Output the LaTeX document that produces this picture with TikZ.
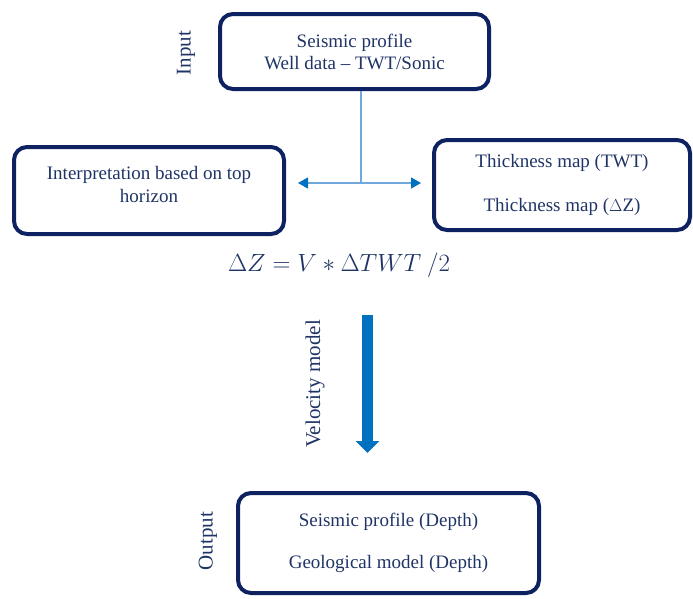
\documentclass[tikz,border=0pt]{standalone}
\usepackage{fontspec}
\setmainfont{Liberation Serif}
\usepackage{amsmath}
\usetikzlibrary{arrows.meta}
\definecolor{boxnavy}{HTML}{0E2160}
\definecolor{textnavy}{HTML}{1F3465}
\definecolor{lineblue}{HTML}{6FA8DC}
\definecolor{arrowblue}{HTML}{0070C0}

\begin{document}
\begin{tikzpicture}[x=1pt,y=-1pt]
    \tikzset{BX/.style={draw=boxnavy,line width=4pt,rounded corners=13pt,align=center,
        text=textnavy,font=\fontsize{19}{23}\selectfont,inner sep=0pt}}
    \tikzset{LB/.style={text=textnavy,font=\fontsize{21}{24}\selectfont,rotate=90,inner sep=0pt}}
    \tikzset{CN/.style={draw=lineblue,line width=1.2pt}}
    \tikzset{HD/.style={-{Triangle[length=10pt,width=11pt,color=arrowblue]}}}

    \useasboundingbox (0,0) rectangle (693,598);

    \node (top) [BX,minimum width=269pt,minimum height=75pt] at (354.5,51.5)
        {Seismic profile\\[-1pt]Well data -- TWT/Sonic};
    \node (interp) [BX,minimum width=270pt,minimum height=87pt] at (149,190.5)
        {Interpretation based on top\\horizon\\[-11pt]};
    \node (thick) [BX,minimum width=256pt,minimum height=90pt] at (562,185)
        {Thickness map (TWT)\\[21pt]Thickness map ($\Delta$Z)};
    \node (out) [BX,minimum width=301pt,minimum height=100pt] at (388.5,543)
        {Seismic profile (Depth)\\[19pt]Geological model (Depth)};

    \node (in) [LB] at (186,53) {Input};
    \node (vel) [LB] at (315,384) {Velocity model};
    \node (outl) [LB] at (208,541) {Output};

    \node (eq) [text=textnavy,font=\fontsize{23}{28}\selectfont] at (339,265)
        {$\Delta Z = V \ast \Delta TWT\ /2$};

    \coordinate (j) at (361,183);
    \coordinate (jl) at (298,183);
    \coordinate (jr) at (421,183);
    \coordinate (va) at (367.5,315);
    \coordinate (vb) at (367.5,453);

    \path[CN] (top.south -| j) -- (j);
    \path[CN,HD] (j) -- (jl);
    \path[CN,HD] (j) -- (jr);
    \path[draw=arrowblue,line width=11pt,-{Triangle[length=12pt,width=23pt]}] (va) -- (vb);
\end{tikzpicture}
\end{document}
